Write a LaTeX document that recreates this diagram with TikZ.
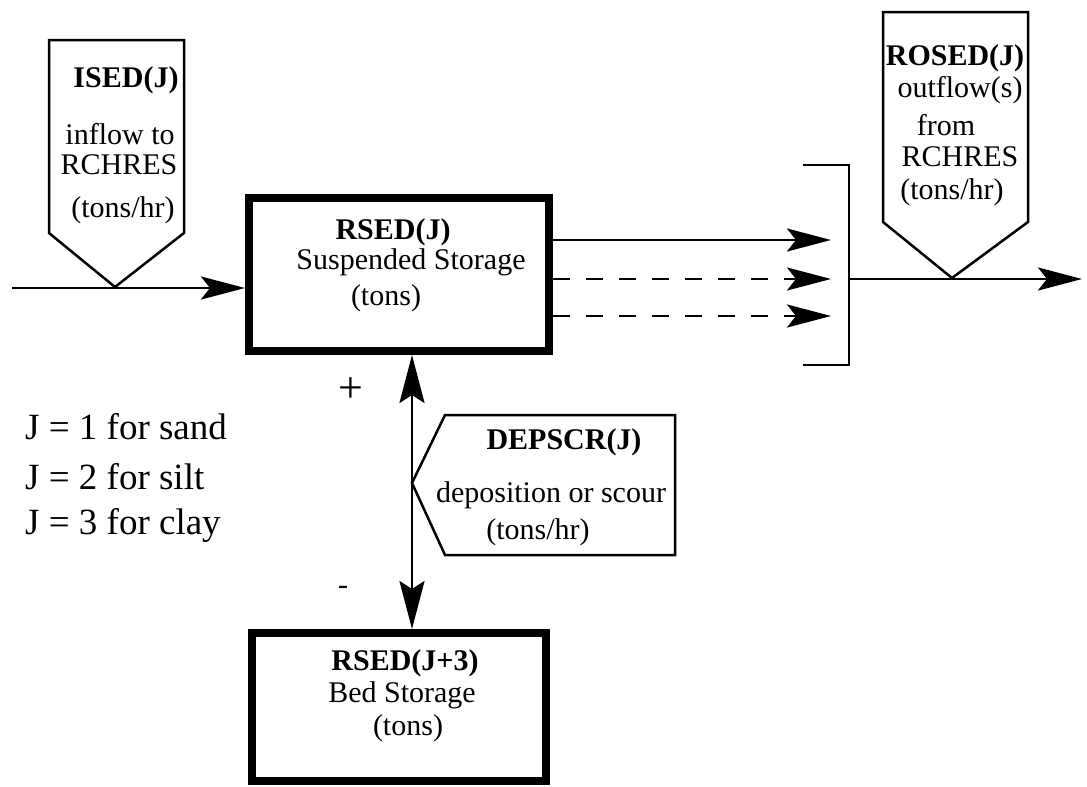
\documentclass[tikz,border=0pt]{standalone}
\usepackage{fontspec}
\setmainfont{Liberation Serif}
\usetikzlibrary{arrows.meta}
\tikzset{
  store/.style={draw,line width=8pt,rectangle,inner sep=0pt},
  flag/.style={draw,line width=2.5pt,line join=miter},
  lbl/.style={inner sep=0pt,font=\fontsize{30}{36}\selectfont},
  blbl/.style={inner sep=0pt,font=\fontsize{30}{36}\selectfont\bfseries},
  leg/.style={inner sep=0pt,anchor=west,font=\fontsize{37}{44}\selectfont},
  flow/.style={line width=2.8pt,-{Stealth[length=44pt,width=23pt,inset=9pt]}},
  dflow/.style={flow,dash pattern=on 17pt off 16pt},
  both/.style={line width=2.8pt,{Stealth[length=48pt,width=25pt,inset=8pt]}-{Stealth[length=48pt,width=25pt,inset=8pt]}},
  plain/.style={line width=2.5pt}
}
\begin{document}
\begin{tikzpicture}[x=1pt,y=-1pt]
\useasboundingbox (0,0) rectangle (1087,787);
% storage boxes
\node[store,minimum width=300pt,minimum height=153pt] (susp) at (399,274.5) {};
\node[store,minimum width=294pt,minimum height=148pt] (bed) at (399,707) {};
\node[blbl] (suspA) at (393,232) {RSED(J)};
\node[lbl] (suspB) at (411,262) {Suspended Storage};
\node[lbl] (suspC) at (386,298) {(tons)};
\node[blbl] (bedA) at (405,663) {RSED(J+3)};
\node[lbl] (bedB) at (402,695) {Bed Storage};
\node[lbl] (bedC) at (408,728) {(tons)};
% inflow flag
\draw[flag] (49,40) -- (184,40) -- (184,233) -- (115,287) -- (49,233) -- cycle;
\coordinate (inTip) at (115,287);
\node[blbl] (isedA) at (126,80) {ISED(J)};
\node[lbl] (isedB) at (120,134) {inflow to};
\node[lbl] (isedC) at (119,165) {RCHRES};
\node[lbl] (isedD) at (123,210) {(tons/hr)};
\coordinate (inStart) at (12,288);
\draw[flow] (inStart) -- (inStart -| susp.west);
% outflow flag
\draw[flag] (883,12) -- (1028,12) -- (1028,222) -- (952,278) -- (883,222) -- cycle;
\coordinate (outTip) at (952,278);
\node[blbl] (rosedA) at (955,58) {ROSED(J)};
\node[lbl] (rosedB) at (960,90) {outflow(s)};
\node[lbl] (rosedC) at (946,125) {from};
\node[lbl] (rosedD) at (960,157) {RCHRES};
\node[lbl] (rosedE) at (952,192) {(tons/hr)};
% outflow arrows and bracket
\coordinate (o1) at (831,240);
\coordinate (o2) at (831,279);
\coordinate (o3) at (831,316);
\draw[flow] (o1 -| susp.east) -- (o1);
\draw[dflow] (o2 -| susp.east) -- (o2);
\draw[dflow] (o3 -| susp.east) -- (o3);
\coordinate (bt) at (849,165);
\coordinate (bb) at (849,365);
\draw[plain] (803,165) -- (bt) -- (bb) -- (803,365);
\coordinate (bmid) at (849,279);
\coordinate (outEnd) at (1082,279);
\draw[flow] (bmid) -- (outEnd);
% deposition / scour
\coordinate (vx) at (412,0);
\draw[both] (vx |- susp.south) -- (vx |- bed.north);
\draw[flag] (445,415) -- (675,415) -- (675,555) -- (445,555) -- (412,483) -- cycle;
\node[blbl] (depA) at (564,442) {DEPSCR(J)};
\node[lbl] (depB) at (551,495) {deposition or scour};
\node[lbl] (depC) at (538,532) {(tons/hr)};
\node[inner sep=0pt,font=\fontsize{44}{48}\selectfont] (plus) at (351,390) {+};
\node[lbl] (minus) at (343,590) {-};
% legend
\node[leg] (leg1) at (25,427) {J = 1 for sand};
\node[leg] (leg2) at (25,477) {J = 2 for silt};
\node[leg] (leg3) at (25,525) {J = 3 for clay};
\end{tikzpicture}
\end{document}
